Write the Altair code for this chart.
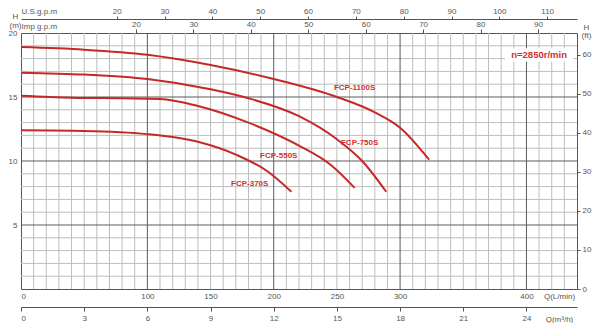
import altair as alt
import pandas as pd

# ---------------- data ----------------
series_names = ["FCP-1100S", "FCP-750S", "FCP-550S", "FCP-370S"]
q_1100 = [0, 50, 100, 150, 200, 250, 280, 300, 323]
h_1100 = [18.9, 18.7, 18.3, 17.5, 16.4, 15.0, 13.8, 12.6, 10.1]
q_750 = [0, 50, 100, 150, 180, 220, 250, 270, 289]
h_750 = [16.9, 16.75, 16.4, 15.6, 14.9, 13.5, 11.7, 10.0, 7.6]
q_550 = [0, 40, 80, 110, 140, 180, 220, 245, 264]
h_550 = [15.1, 14.95, 14.9, 14.85, 14.3, 13.0, 11.2, 9.7, 7.9]
q_370 = [0, 50, 100, 140, 170, 195, 214]
h_370 = [12.4, 12.35, 12.1, 11.5, 10.5, 9.2, 7.6]

label_q = [264, 268, 204, 181]
label_h = [15.7, 11.4, 10.4, 8.2]

speed_text = "n=2850r/min"
speed_q = 410
speed_h = 18.28

lmin_ticks = [0, 100, 150, 200, 250, 300, 400]
m3h_ticks = [0, 3, 6, 9, 12, 15, 18, 21, 24]
usgpm_ticks = [20, 30, 40, 50, 60, 70, 80, 90, 100, 110]
impgpm_ticks = [20, 30, 40, 50, 60, 70, 80, 90]
m_ticks = [5, 10, 15, 20]
ft_ticks = [0, 10, 20, 30, 40, 50, 60]

grid_q_minor = [q for q in range(10, 440, 10) if q % 100 != 0]
grid_q_major = [100, 200, 300, 400]
grid_h_minor = [h for h in range(1, 20) if h % 5 != 0]
grid_h_major = [5, 10, 15]

Q_MAX = 440.0
H_MAX = 20.0

# ---------------- styling ----------------
FONT = "Liberation Sans"
RED_LINE = "#c62828"
RED_TEXT = "#d32f2f"
AX = "#555555"
GRID_LIGHT = "#bdbdbd"
GRID_DARK = "#5a5a5a"

rows = []
for name, qs, hs in zip(series_names, [q_1100, q_750, q_550, q_370],
                        [h_1100, h_750, h_550, h_370]):
    for q, h in zip(qs, hs):
        rows.append({"series": name, "q": q, "h": h})
curves_df = pd.DataFrame(rows)
labels_df = pd.DataFrame({"series": series_names, "q": label_q, "h": label_h})
speed_df = pd.DataFrame({"t": [speed_text], "q": [speed_q], "h": [speed_h],
                         "q0": [383], "q1": [437], "h0": [17.75], "h1": [18.8]})

xs = alt.Scale(domain=[0, Q_MAX], nice=False, zero=False)
ys = alt.Scale(domain=[0, H_MAX], nice=False, zero=False)

x_main_axis = alt.Axis(
    values=lmin_ticks, grid=False, ticks=False, domain=False, labelOverlap=False,
    labelPadding=3, labelFont=FONT, labelFontSize=8, labelColor=AX,
    title="Q(L/min)", titleFont=FONT, titleFontSize=8, titleFontWeight="normal",
    titleColor=AX, titleX=538, titleY=7, titleAlign="center", titleBaseline="middle",
)
y_main_axis = alt.Axis(
    values=m_ticks, grid=False, ticks=False, domain=False, labelOverlap=False,
    labelPadding=4, labelFont=FONT, labelFontSize=8, labelColor=AX,
    title=["H", "(m)"], titleAngle=0, titleFont=FONT, titleFontSize=8,
    titleFontWeight="normal", titleColor=AX, titleX=-6, titleY=-21,
    titleAlign="center", titleBaseline="top", titleLineHeight=9,
)


def X(field):
    return alt.X(field, scale=xs, axis=x_main_axis)


def Y(field):
    return alt.Y(field, scale=ys, axis=y_main_axis)


def vrules(vals, color):
    return alt.Chart(pd.DataFrame({"q": vals})).mark_rule(
        color=color, strokeWidth=1).encode(x=X("q:Q"))


def hrules(vals, color):
    return alt.Chart(pd.DataFrame({"h": vals})).mark_rule(
        color=color, strokeWidth=1).encode(y=Y("h:Q"))


curves = alt.Chart(curves_df).mark_line(
    color=RED_LINE, strokeWidth=2, interpolate="monotone"
).encode(x=X("q:Q"), y=Y("h:Q"), detail="series:N")

labels = alt.Chart(labels_df).mark_text(
    font=FONT, fontSize=8, fontWeight="bold", color=RED_TEXT
).encode(x=X("q:Q"), y=Y("h:Q"), text="series:N")

speed_bg = alt.Chart(speed_df).mark_rect(color="white").encode(
    x=X("q0:Q"), x2="q1:Q", y=Y("h0:Q"), y2="h1:Q",
)
speed = alt.Chart(speed_df).mark_text(
    font=FONT, fontSize=9.5, fontWeight="bold", color=RED_TEXT
).encode(x=X("q:Q"), y=Y("h:Q"), text="t:N")

main = alt.layer(
    vrules(grid_q_minor, GRID_LIGHT), hrules(grid_h_minor, GRID_LIGHT),
    vrules(grid_q_major, GRID_DARK), hrules(grid_h_major, GRID_DARK),
    speed_bg, curves, speed, labels,
)

# ---- secondary axes (independent scales, converted units) ----
m3h_layer = alt.Chart(pd.DataFrame({"v": m3h_ticks})).mark_point(opacity=0).encode(
    x=alt.X("v:Q", scale=alt.Scale(domain=[0, Q_MAX * 60 / 1000], nice=False, zero=False),
            axis=alt.Axis(orient="bottom", offset=18, values=m3h_ticks, grid=False,
                          tickSize=4, tickColor=AX, domainColor=AX, labelPadding=3,
                          labelOverlap=False,
                          labelFont=FONT, labelFontSize=8, labelColor=AX,
                          title="Q(m³/h)", titleFont=FONT, titleFontSize=8,
                          titleFontWeight="normal", titleColor=AX, titleX=538,
                          titleY=12, titleAlign="center", titleBaseline="middle")),
    y=alt.value(0),
)

us_layer = alt.Chart(pd.DataFrame({"v": usgpm_ticks})).mark_point(opacity=0).encode(
    x=alt.X("v:Q", scale=alt.Scale(domain=[0, Q_MAX / 3.78541], nice=False, zero=False),
            axis=alt.Axis(orient="top", offset=14, values=usgpm_ticks, grid=False,
                          tickSize=3, tickColor=AX, domainColor=AX, labelPadding=1,
                          labelOverlap=False,
                          labelFont=FONT, labelFontSize=8, labelColor=AX,
                          title="U.S.g.p.m", titleFont=FONT, titleFontSize=8,
                          titleFontWeight="normal", titleColor=AX, titleX=0,
                          titleY=-8, titleAlign="left", titleBaseline="middle")),
    y=alt.value(0),
)

imp_layer = alt.Chart(pd.DataFrame({"v": impgpm_ticks})).mark_point(opacity=0).encode(
    x=alt.X("v:Q", scale=alt.Scale(domain=[0, Q_MAX / 4.54609], nice=False, zero=False),
            axis=alt.Axis(orient="top", offset=0, values=impgpm_ticks, grid=False,
                          domain=False, tickSize=4, tickColor=AX, labelPadding=1,
                          labelOverlap=False,
                          labelFont=FONT, labelFontSize=8, labelColor=AX,
                          title="Imp g.p.m", titleFont=FONT, titleFontSize=8,
                          titleFontWeight="normal", titleColor=AX, titleX=0,
                          titleY=-7, titleAlign="left", titleBaseline="middle")),
    y=alt.value(0),
)

ft_layer = alt.Chart(pd.DataFrame({"v": ft_ticks})).mark_point(opacity=0).encode(
    y=alt.Y("v:Q", scale=alt.Scale(domain=[0, H_MAX / 0.3048], nice=False, zero=False),
            axis=alt.Axis(orient="right", values=ft_ticks, grid=False, domain=False,
                          tickSize=3, tickColor=AX, labelPadding=2, labelOverlap=False,
                          labelFont=FONT, labelFontSize=8, labelColor=AX,
                          title=["H", "(ft)"], titleAngle=0, titleFont=FONT,
                          titleFontSize=8, titleFontWeight="normal", titleColor=AX,
                          titleX=9, titleY=-10, titleAlign="center",
                          titleBaseline="top", titleLineHeight=8)),
    x=alt.value(0),
)

chart = alt.layer(main, m3h_layer, us_layer, imp_layer, ft_layer).resolve_scale(
    x="independent", y="independent"
).properties(
    width=556, height=256,
    autosize=alt.AutoSizeParams(type="none"),
    padding={"left": 13, "top": 25, "right": 15, "bottom": 34},
    background="white",
).configure_view(stroke="#555555", strokeWidth=1)

chart.save("out.html", embed_options={"renderer": "svg", "actions": False})
